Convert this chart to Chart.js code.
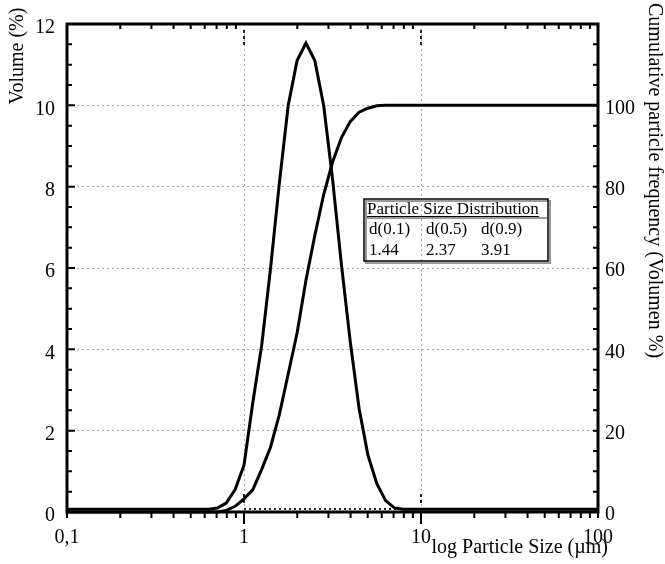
<!DOCTYPE html>
<html>
<head>
<meta charset="utf-8">
<script src="https://cdn.jsdelivr.net/npm/chart.js@4.4.1/dist/chart.umd.min.js"></script>
<style>
  html, body { margin: 0; padding: 0; background: #fff; }
</style>
</head>
<body>
<canvas id="psd" width="665" height="564"></canvas>
<script>
// particle size (um), log spaced
var sizes = [0.1, 0.631, 0.708, 0.794, 0.891, 1.0, 1.122, 1.259, 1.413, 1.585, 1.778, 1.995, 2.239,
  2.512, 2.818, 3.162, 3.548, 3.981, 4.467, 5.012, 5.623, 6.310, 7.079, 7.943, 100];
// volume (%) per size class
var volume = [0.07, 0.07, 0.1, 0.22, 0.55, 1.15, 2.7, 4.1, 6.0, 8.1, 10.0, 11.1, 11.53,
  11.1, 10.0, 8.2, 6.1, 4.2, 2.55, 1.4, 0.7, 0.28, 0.1, 0.07, 0.07];
// cumulative volume (%)
var cumulative = [0, 0, 0, 0.4, 1.4, 3.2, 5.5, 10.5, 16, 24, 34, 44, 57,
  68, 78, 86, 92, 96, 98.3, 99.3, 99.9, 100, 100, 100, 100];

var xTickLabels = { 0.1: '0,1', 1: '1', 10: '10', 100: '100' };
var tableTitle = 'Particle Size Distribution';
var tableHeads = ['d(0.1)', 'd(0.5)', 'd(0.9)'];
var tableValues = ['1.44', '2.37', '3.91'];

var serif = "'Liberation Serif', 'Times New Roman', serif";
var gridGray = '#a8a8a8';

function pts(ys) {
  return sizes.map(function (s, i) { return { x: s, y: ys[i] }; });
}

var decorations = {
  id: 'decorations',
  beforeDatasetsDraw: function (chart) {
    var c = chart.ctx, a = chart.chartArea, x = chart.scales.x;
    c.save();
    c.strokeStyle = '#222';
    c.lineWidth = 2;
    c.setLineDash([3, 3]);
    c.beginPath();
    [1, 10].forEach(function (v) {
      var px = x.getPixelForValue(v);
      c.moveTo(px, a.top + 6); c.lineTo(px, a.top + 22);
      c.moveTo(px, a.bottom - 18); c.lineTo(px, a.bottom - 6);
    });
    c.stroke();
    c.setLineDash([2, 3]);
    c.beginPath();
    c.moveTo(x.getPixelForValue(1), a.bottom - 3);
    c.lineTo(x.getPixelForValue(10), a.bottom - 3);
    c.stroke();
    c.restore();
  },
  afterDraw: function (chart) {
    var c = chart.ctx, a = chart.chartArea;
    var x = chart.scales.x, y = chart.scales.y, y2 = chart.scales.y2;
    var v, py, px;
    c.save();
    c.strokeStyle = '#000';
    c.lineWidth = 3;
    c.strokeRect(a.left, a.top, a.right - a.left, a.bottom - a.top);

    c.lineWidth = 2;
    c.beginPath();
    for (v = 0; v <= 12; v += 0.5) {
      py = y.getPixelForValue(v);
      c.moveTo(a.left, py); c.lineTo(a.left + (v % 2 === 0 ? 8 : 5), py);
    }
    for (v = 0; v <= 120; v += 5) {
      py = y2.getPixelForValue(v);
      c.moveTo(a.right, py); c.lineTo(a.right - 5, py);
    }
    x.ticks.forEach(function (t) {
      px = x.getPixelForValue(t.value);
      var major = t.value === 1 || t.value === 10;
      c.moveTo(px, a.bottom); c.lineTo(px, a.bottom + (major ? 12 : 6));
      if (!major) { c.moveTo(px, a.top); c.lineTo(px, a.top + 5); }
    });
    c.stroke();

    // axis titles
    c.fillStyle = '#000';
    c.font = '20px ' + serif;
    c.save();
    c.translate(18, 56);
    c.rotate(-Math.PI / 2);
    c.textAlign = 'center';
    c.textBaseline = 'middle';
    c.fillText('Volume (%)', 0, 0);
    c.restore();
    c.save();
    c.translate(654, 3);
    c.rotate(Math.PI / 2);
    c.textAlign = 'left';
    c.textBaseline = 'middle';
    c.fillText('Cumulative particle frequency (Volumen %)', 0, 0);
    c.restore();
    c.textAlign = 'right';
    c.textBaseline = 'alphabetic';
    c.fillText('log Particle Size (\u00b5m)', 608, 553);

    // d-values table
    var bx = a.left + 297, by = a.top + 175, bw = 184, bh = 62;
    c.lineWidth = 2;
    c.strokeStyle = '#999';
    c.strokeRect(bx + 2, by + 2, bw, bh);
    c.strokeStyle = '#000';
    c.lineWidth = 1.5;
    c.strokeRect(bx, by, bw, bh);
    c.strokeStyle = '#999';
    c.lineWidth = 2;
    c.beginPath(); c.moveTo(bx + 1, by + 19); c.lineTo(bx + bw - 1, by + 19); c.stroke();
    c.font = '17px ' + serif;
    c.textAlign = 'left';
    c.fillText(tableTitle, bx + 3, by + 15);
    var tw = c.measureText(tableTitle).width;
    c.strokeStyle = '#000';
    c.lineWidth = 1;
    c.beginPath(); c.moveTo(bx + 3, by + 17.5); c.lineTo(bx + 3 + tw, by + 17.5); c.stroke();
    var cols = [5, 62, 117];
    tableHeads.forEach(function (h, i) { c.fillText(h, bx + cols[i], by + 35); });
    tableValues.forEach(function (h, i) { c.fillText(h, bx + cols[i], by + 56); });
    c.restore();
  }
};

new Chart(document.getElementById('psd'), {
  type: 'line',
  data: {
    datasets: [
      {
        label: 'Volume (%)',
        data: pts(volume),
        yAxisID: 'y',
        borderColor: '#000',
        borderWidth: 3,
        pointRadius: 0,
        tension: 0,
        clip: false
      },
      {
        label: 'Cumulative (%)',
        data: pts(cumulative),
        yAxisID: 'y2',
        borderColor: '#000',
        borderWidth: 3,
        pointRadius: 0,
        tension: 0,
        clip: false
      }
    ]
  },
  options: {
    responsive: false,
    animation: false,
    layout: { padding: { top: 14, left: 0, right: 0, bottom: 0 } },
    plugins: { legend: { display: false }, tooltip: { enabled: false } },
    scales: {
      x: {
        type: 'logarithmic',
        min: 0.1,
        max: 100,
        afterBuildTicks: function (s) {
          var t = [];
          [0.1, 1, 10].forEach(function (d) {
            for (var k = 1; k < 10; k++) t.push({ value: +(d * k).toPrecision(3) });
          });
          t.push({ value: 100 });
          s.ticks = t;
        },
        afterFit: function (s) { s.height = 52; },
        ticks: {
          autoSkip: false,
          maxRotation: 0,
          padding: 14,
          color: '#000',
          font: { family: serif, size: 20 },
          callback: function (v) { return xTickLabels[v] || ''; }
        },
        grid: {
          drawTicks: false,
          lineWidth: 1,
          color: function (ctx) {
            return ctx.tick && (ctx.tick.value === 1 || ctx.tick.value === 10) ? gridGray : 'rgba(0,0,0,0)';
          }
        },
        border: { display: false, dash: [2, 3] }
      },
      y: {
        position: 'left',
        min: 0,
        max: 12,
        afterFit: function (s) { s.width = 67; },
        ticks: {
          stepSize: 2,
          padding: 12,
          labelOffset: 4,
          color: '#000',
          font: { family: serif, size: 20 }
        },
        grid: {
          drawTicks: false,
          lineWidth: 1,
          color: function (ctx) {
            return ctx.tick && ctx.tick.value > 0 && ctx.tick.value < 12 ? gridGray : 'rgba(0,0,0,0)';
          }
        },
        border: { display: false, dash: [2, 3] }
      },
      y2: {
        position: 'right',
        min: 0,
        max: 120,
        afterFit: function (s) { s.width = 67; },
        ticks: {
          stepSize: 20,
          padding: 7,
          labelOffset: 3,
          color: '#000',
          font: { family: serif, size: 20 },
          callback: function (v) { return v === 120 ? '' : v; }
        },
        grid: { display: false, drawTicks: false },
        border: { display: false }
      }
    }
  },
  plugins: [decorations]
});
</script>
</body>
</html>
